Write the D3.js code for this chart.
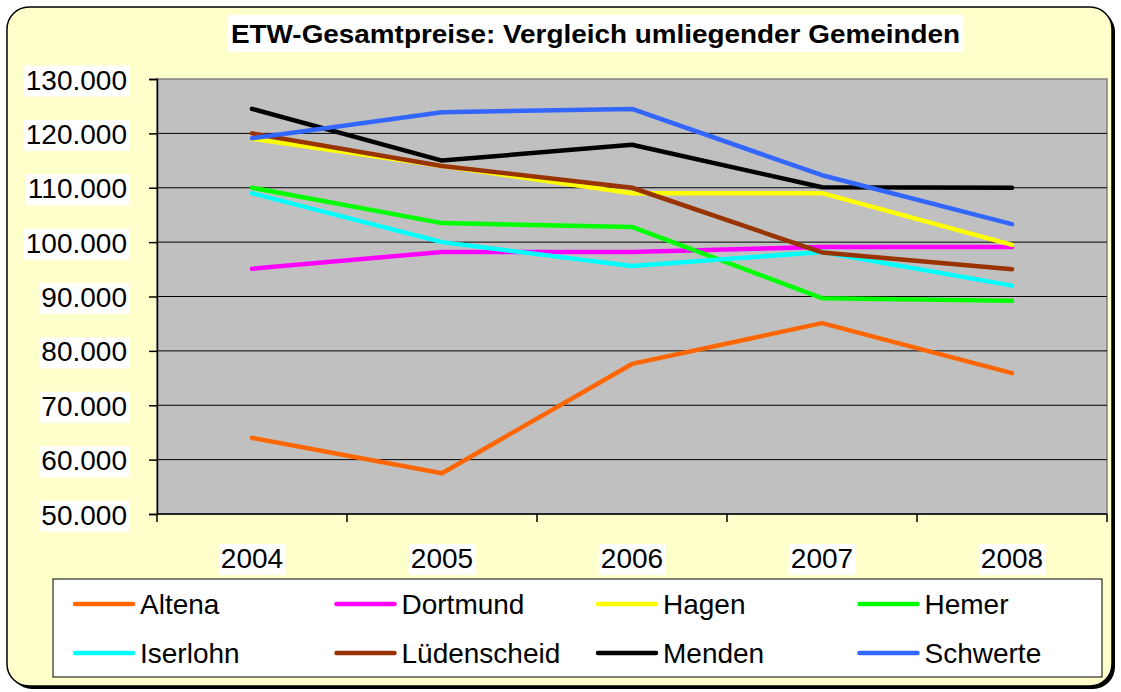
<!DOCTYPE html>
<html lang="de">
<head>
<meta charset="utf-8">
<title>ETW-Gesamtpreise</title>
<script src="https://d3js.org/d3.v7.min.js"></script>
<style>
  body { margin: 0; background: #fff; }
  svg { display: block; font-family: "Liberation Sans", Arial, sans-serif; }
</style>
</head>
<body>
<script>
// data
var years = ["2004", "2005", "2006", "2007", "2008"];
var names = ["Altena", "Dortmund", "Hagen", "Hemer", "Iserlohn", "Lüdenscheid", "Menden", "Schwerte"];
var colors = ["#FF6600", "#FF00FF", "#FFFF00", "#00FF00", "#00FFFF", "#993300", "#000000", "#3366FF"];
var altena      = [64000, 57500, 77600, 85100, 75900];
var dortmund    = [95100, 98200, 98200, 99100, 99100];
var hagen       = [119000, 114000, 109000, 109000, 99500];
var hemer       = [110000, 103500, 102800, 89700, 89200];
var iserlohn    = [109000, 100000, 95600, 98200, 92000];
var luedenscheid = [120000, 114000, 110000, 98100, 95000];
var menden      = [124500, 115000, 117900, 110100, 110000];
var schwerte    = [119100, 123900, 124500, 112300, 103300];
var yTicks = [50000, 60000, 70000, 80000, 90000, 100000, 110000, 120000, 130000];

var series = [altena, dortmund, hagen, hemer, iserlohn, luedenscheid, menden, schwerte];

var W = 1121, H = 692;
var plot = { left: 157, right: 1107, top: 79, bottom: 514 };

var svg = d3.select("body").append("svg")
    .attr("width", W)
    .attr("height", H);

// outer frame with shadow
svg.append("rect")
    .attr("x", 10).attr("y", 10)
    .attr("width", 1105).attr("height", 679)
    .attr("rx", 22)
    .attr("fill", "#000");
svg.append("rect")
    .attr("x", 7).attr("y", 7)
    .attr("width", 1105).attr("height", 679)
    .attr("rx", 22)
    .attr("fill", "#FFFFCC")
    .attr("stroke", "#000")
    .attr("stroke-width", 1.5);

var x = d3.scalePoint().domain(years).range([plot.left, plot.right]).padding(0.5);
var xBand = d3.scaleBand().domain(years).range([plot.left, plot.right]);
var y = d3.scaleLinear().domain([50000, 130000]).range([plot.bottom, plot.top]);

var fmt = function(v) { return d3.format(",")(v).replace(/,/g, "."); };

// plot area
svg.append("rect")
    .attr("x", plot.left).attr("y", plot.top)
    .attr("width", plot.right - plot.left)
    .attr("height", plot.bottom - plot.top)
    .attr("fill", "#C0C0C0")
    .attr("stroke", "#808080")
    .attr("stroke-width", 1.5);

// gridlines
svg.append("g").selectAll("line")
    .data(yTicks.slice(1, -1))
    .enter().append("line")
    .attr("x1", plot.left).attr("x2", plot.right)
    .attr("y1", function(d) { return y(d); })
    .attr("y2", function(d) { return y(d); })
    .attr("stroke", "#000")
    .attr("stroke-width", 1);

// y axis
var yAxis = svg.append("g")
    .attr("transform", "translate(" + plot.left + ",0)")
    .call(d3.axisLeft(y).tickValues(yTicks).tickFormat(fmt).tickSize(8).tickPadding(22));
yAxis.select(".domain").attr("stroke", "#000").attr("stroke-width", 1.5);
yAxis.selectAll(".tick line").attr("stroke", "#000").attr("stroke-width", 1.5);
yAxis.selectAll("text").attr("font-size", 28).attr("fill", "#000")
    .attr("font-family", "'Liberation Sans', Arial, sans-serif")
    .attr("dy", "0.36em");

// x axis (ticks between categories)
var xAxisG = svg.append("g");
xAxisG.append("line")
    .attr("x1", plot.left).attr("x2", plot.right)
    .attr("y1", plot.bottom).attr("y2", plot.bottom)
    .attr("stroke", "#000").attr("stroke-width", 1.5);
var bounds = years.map(function(d) { return xBand(d); }).concat([plot.right]);
xAxisG.selectAll("line.tk")
    .data(bounds)
    .enter().append("line")
    .attr("class", "tk")
    .attr("x1", function(d) { return d; })
    .attr("x2", function(d) { return d; })
    .attr("y1", plot.bottom).attr("y2", plot.bottom + 8)
    .attr("stroke", "#000").attr("stroke-width", 1.5);
xAxisG.selectAll("text")
    .data(years)
    .enter().append("text")
    .attr("x", function(d) { return x(d); })
    .attr("y", 568)
    .attr("text-anchor", "middle")
    .attr("font-size", 28)
    .text(function(d) { return d; });

// white boxes behind axis labels
yAxis.selectAll(".tick text").each(function() {
  var b = this.getBBox();
  d3.select(this.parentNode).insert("rect", "text")
    .attr("x", b.x - 2).attr("y", b.y + 1)
    .attr("width", b.width + 4).attr("height", b.height)
    .attr("fill", "#fff");
});
xAxisG.selectAll("text").each(function() {
  var b = this.getBBox();
  xAxisG.insert("rect", "text")
    .attr("x", b.x - 2).attr("y", b.y + 1)
    .attr("width", b.width + 4).attr("height", b.height)
    .attr("fill", "#fff");
});

// lines
var line = d3.line()
    .x(function(d, i) { return x(years[i]); })
    .y(function(d) { return y(d); });

svg.append("g").selectAll("path")
    .data(series)
    .enter().append("path")
    .attr("d", line)
    .attr("fill", "none")
    .attr("stroke", function(d, i) { return colors[i]; })
    .attr("stroke-width", 4.5)
    .attr("stroke-linejoin", "round")
    .attr("stroke-linecap", "round");

// title
var title = svg.append("text")
    .attr("x", 231).attr("y", 43)
    .attr("font-size", 26)
    .attr("font-weight", "bold")
    .attr("textLength", 729)
    .attr("lengthAdjust", "spacingAndGlyphs")
    .text("ETW-Gesamtpreise: Vergleich umliegender Gemeinden");
svg.insert("rect", function() { return title.node(); })
    .attr("x", 228).attr("y", 15)
    .attr("width", 735).attr("height", 37)
    .attr("fill", "#fff");

// legend
var legend = svg.append("g");
legend.append("rect")
    .attr("x", 53).attr("y", 579)
    .attr("width", 1049).attr("height", 98)
    .attr("fill", "#fff")
    .attr("stroke", "#000")
    .attr("stroke-width", 1);
var items = legend.selectAll("g.item")
    .data(names)
    .enter().append("g")
    .attr("class", "item")
    .attr("transform", function(d, i) {
      return "translate(" + (75 + (i % 4) * 261.5) + "," + (604 + Math.floor(i / 4) * 49) + ")";
    });
items.append("line")
    .attr("x1", 0).attr("x2", 58)
    .attr("stroke", function(d, i) { return colors[i]; })
    .attr("stroke-width", 4.5)
    .attr("stroke-linecap", "round");
items.append("text")
    .attr("x", 65).attr("y", 10)
    .attr("font-size", 28)
    .text(function(d) { return d; });
</script>
</body>
</html>
